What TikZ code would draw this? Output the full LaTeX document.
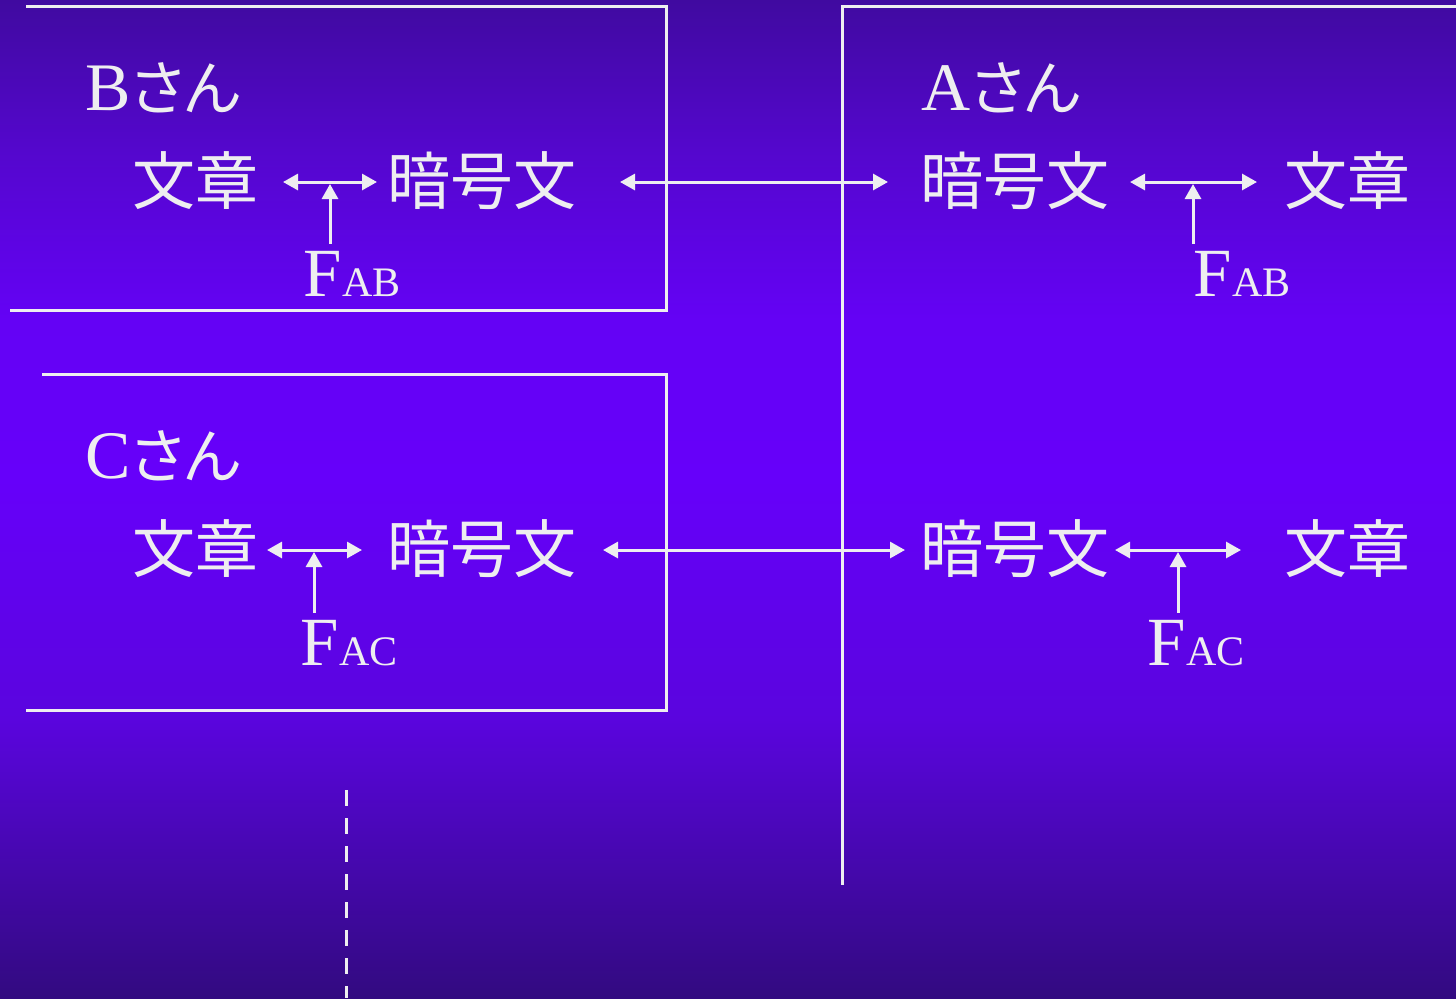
\documentclass[tikz,border=0pt]{standalone}
\usepackage{fontspec}
\setmainfont{Liberation Serif}
\newfontfamily\jp[RawFeature=+palt]{Noto Sans CJK JP}
\usetikzlibrary{arrows.meta}
\definecolor{fg}{RGB}{238,238,240}
\definecolor{c0}{RGB}{64,10,160}
\definecolor{c1}{RGB}{84,7,205}
\definecolor{c2}{RGB}{100,2,245}
\definecolor{c3}{RGB}{102,0,250}
\definecolor{c4}{RGB}{90,5,222}
\definecolor{c5}{RGB}{50,10,128}
\tikzset{
  txt/.style={text=fg, inner sep=0pt},
  cjk/.style={txt, font=\jp\fontsize{31.5}{31.5}\selectfont},
  who/.style={txt, font=\fontsize{34}{34}\selectfont},
  key/.style={txt, inner sep=3.5pt, font=\fontsize{34.5}{34.5}\selectfont},
  ln/.style={draw=fg, line width=1.5pt},
  arr/.style={ln, arrows={Triangle[length=7.5pt,width=8pt]-Triangle[length=7.5pt,width=8pt]}},
  up/.style={ln, arrows={-Triangle[length=7.5pt,width=8pt]}},
}
\newcommand{\sub}[1]{{\fontsize{21}{21}\selectfont #1}}
\newcommand{\kana}[1]{{\jp\fontsize{30}{30}\selectfont #1}}
\begin{document}
\begin{tikzpicture}[x=0.5pt,y=-0.5pt]
% background
\shade[top color=c0,bottom color=c1] (0,0) rectangle (1456,150);
\shade[top color=c1,bottom color=c2] (0,149.5) rectangle (1456,320);
\shade[top color=c2,bottom color=c3] (0,319.5) rectangle (1456,480);
\shade[top color=c3,bottom color=c4] (0,479.5) rectangle (1456,720);
\shade[top color=c4,bottom color=c5] (0,719.5) rectangle (1456,998);
\useasboundingbox (0,0) rectangle (1456,998);

% frames
\draw[ln] (26,6) -- (666,6) -- (666,310) -- (10,310);
\draw[ln] (42,374) -- (666,374) -- (666,710) -- (26,710);
\draw[ln] (1456,6) -- (842,6) -- (842,885);
\draw[ln, dash pattern=on 8pt off 6pt] (346,790) -- (346,998);

% B
\node[who] (bn) at (163,88) {B\kana{さん}};
\node[cjk] (bp) at (195,181) {文章};
\node[cjk] (bc) at (482,181) {暗号文};
\node[key] (bk) at (352,274) {F\sub{AB}};
\coordinate (b1) at (283,182);
\coordinate (b2) at (377,182);
\draw[arr] (b1) -- (b2);
\draw[up] (bk.north -| 330,0) -- (330,184);

% A top
\node[who] (an) at (1001,88) {A\kana{さん}};
\node[cjk] (ac1) at (1015,181) {暗号文};
\node[cjk] (ap1) at (1347,181) {文章};
\node[key] (ak1) at (1242,274) {F\sub{AB}};
\coordinate (a1) at (1130,182);
\coordinate (a2) at (1257,182);
\draw[arr] (a1) -- (a2);
\draw[up] (ak1.north -| 1193,0) -- (1193,184);

% link B - A
\coordinate (l1) at (620,182);
\coordinate (l2) at (888,182);
\draw[arr] (l1) -- (l2);

% C
\node[who] (cn) at (163,456) {C\kana{さん}};
\node[cjk] (cp) at (195,549) {文章};
\node[cjk] (cc) at (482,549) {暗号文};
\node[key] (ck) at (349,643) {F\sub{AC}};
\coordinate (c1) at (267,550);
\coordinate (c2) at (362,550);
\draw[arr] (c1) -- (c2);
\draw[up] (ck.north -| 314,0) -- (314,552);

% A bottom
\node[cjk] (ac2) at (1015,549) {暗号文};
\node[cjk] (ap2) at (1347,549) {文章};
\node[key] (ak2) at (1196,643) {F\sub{AC}};
\coordinate (a3) at (1115,550);
\coordinate (a4) at (1241,550);
\draw[arr] (a3) -- (a4);
\draw[up] (ak2.north -| 1178,0) -- (1178,552);

% link C - A
\coordinate (m1) at (603,550);
\coordinate (m2) at (905,550);
\draw[arr] (m1) -- (m2);
\end{tikzpicture}
\end{document}
